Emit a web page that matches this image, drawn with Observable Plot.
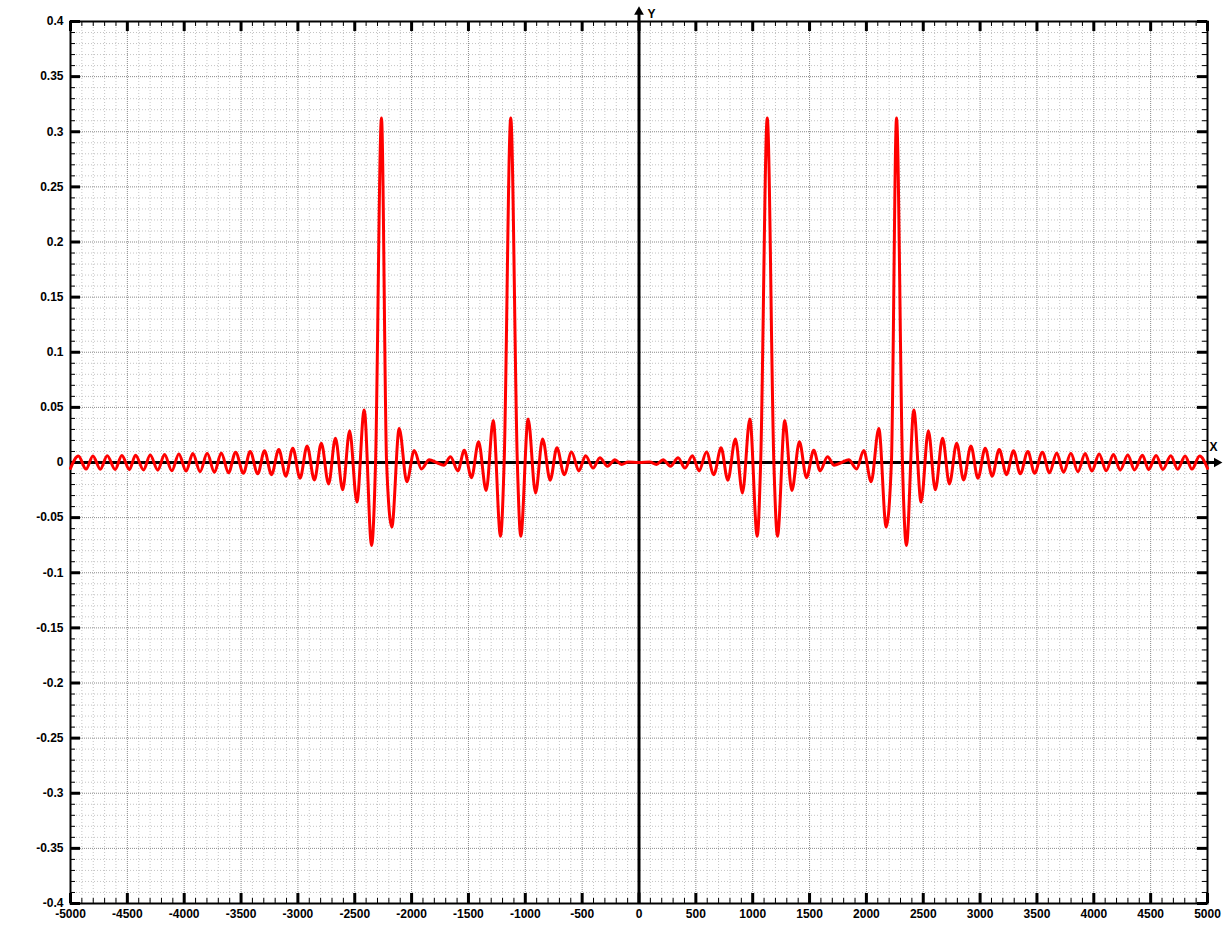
<!DOCTYPE html>
<html><head><meta charset="utf-8">
<script src="https://cdn.jsdelivr.net/npm/d3@7"></script>
<script src="https://cdn.jsdelivr.net/npm/@observablehq/plot@0.6"></script>
<style>html,body{margin:0;padding:0;background:#fff;} #chart svg{display:block;}</style>
</head><body><div id="chart"></div>
<script>
// Signal extrema (x, y), left half then right half
const leftX = [-5000, -4931, -4863, -4803, -4738, -4677, -4608, -4548, -4482, -4428, -4358, -4299, -4232, -4173, -4109, -4047, -3983, -3924, -3860, -3798, -3734, -3674, -3610, -3548, -3479, -3420, -3353, -3294, -3232, -3168, -3106, -3045, -2981, -2919, -2855, -2794, -2730, -2670, -2606, -2545, -2481, -2417, -2352, -2317, -2265, -2220, -2174, -2109, -2042, -1977, -1913, -1845, -1780, -1716, -1658, -1593, -1537, -1473, -1411, -1344, -1282, -1218, -1186, -1128, -1070, -1040, -975, -910, -848, -781, -722, -658, -593, -529, -470, -403, -344, -277, -212, -154, -95];
const leftY = [-0.0053, 0.0058, -0.0060, 0.0060, -0.0061, 0.0062, -0.0063, 0.0064, -0.0065, 0.0066, -0.0067, 0.0068, -0.0070, 0.0072, -0.0075, 0.0078, -0.0078, 0.0081, -0.0083, 0.0083, -0.0088, 0.0087, -0.0093, 0.0093, -0.0097, 0.0100, -0.0102, 0.0106, -0.0110, 0.0118, -0.0124, 0.0130, -0.0142, 0.0150, -0.0158, 0.0175, -0.0195, 0.0220, -0.0248, 0.0287, -0.0359, 0.0477, -0.0752, 0, 0.3125, 0, -0.0585, 0.0308, -0.0174, 0.0108, -0.0059, 0.0026, 0, -0.0024, 0.0052, -0.0076, 0.0110, -0.0138, 0.0188, -0.0255, 0.0380, -0.0670, 0, 0.3125, 0, -0.0670, 0.0394, -0.0277, 0.0214, -0.0160, 0.0133, -0.0110, 0.0095, -0.0076, 0.0061, -0.0051, 0.0043, -0.0034, 0.0026, -0.0018, 0.0005];
const rightX = [0, 95, 154, 212, 277, 344, 403, 470, 529, 593, 658, 722, 781, 848, 910, 975, 1040, 1070, 1128, 1186, 1218, 1282, 1344, 1411, 1473, 1537, 1593, 1658, 1716, 1780, 1845, 1913, 1977, 2042, 2109, 2174, 2220, 2265, 2317, 2352, 2417, 2481, 2545, 2606, 2670, 2730, 2794, 2855, 2919, 2981, 3045, 3106, 3168, 3232, 3294, 3353, 3420, 3479, 3548, 3610, 3674, 3734, 3798, 3860, 3924, 3983, 4047, 4109, 4173, 4232, 4299, 4358, 4428, 4482, 4548, 4608, 4677, 4738, 4803, 4863, 4931, 5000];
const rightY = [0, 0.0005, -0.0018, 0.0026, -0.0034, 0.0043, -0.0051, 0.0061, -0.0076, 0.0095, -0.0110, 0.0133, -0.0160, 0.0214, -0.0277, 0.0394, -0.0670, 0, 0.3125, 0, -0.0670, 0.0380, -0.0255, 0.0188, -0.0138, 0.0110, -0.0076, 0.0052, -0.0024, 0, 0.0026, -0.0059, 0.0108, -0.0174, 0.0308, -0.0585, 0, 0.3125, 0, -0.0752, 0.0477, -0.0359, 0.0287, -0.0248, 0.0220, -0.0195, 0.0175, -0.0158, 0.0150, -0.0142, 0.0130, -0.0124, 0.0118, -0.0110, 0.0106, -0.0102, 0.0100, -0.0097, 0.0093, -0.0093, 0.0087, -0.0088, 0.0083, -0.0083, 0.0081, -0.0078, 0.0078, -0.0075, 0.0072, -0.0070, 0.0068, -0.0067, 0.0066, -0.0065, 0.0064, -0.0063, 0.0062, -0.0061, 0.0060, -0.0060, 0.0058, -0.0053];

// Tick values
const xTicks = [-5000, -4500, -4000, -3500, -3000, -2500, -2000, -1500, -1000, -500, 0, 500, 1000, 1500, 2000, 2500, 3000, 3500, 4000, 4500, 5000];
const yTicks = [-0.4, -0.35, -0.3, -0.25, -0.2, -0.15, -0.1, -0.05, 0, 0.05, 0.1, 0.15, 0.2, 0.25, 0.3, 0.35, 0.4];
const xMinor = d3.range(-5000, 5001, 100).filter(d => d % 500 !== 0);
const yMinor = d3.range(-40, 41).filter(d => d % 5 !== 0).map(d => d / 100);

const W = 1230, H = 927, ML = 70, MR = 23, MT = 21, MB = 24;
const PW = W - ML - MR, PH = H - MT - MB;

const data = leftX.map((x, i) => ({x, y: leftY[i]}))
  .concat(rightX.map((x, i) => ({x, y: rightY[i]})));
const fmt = d => String(d);

const chart = Plot.plot({
  width: W, height: H,
  marginLeft: ML, marginRight: MR, marginTop: MT, marginBottom: MB,
  style: {fontFamily: '"Liberation Sans", Arial, sans-serif', fontSize: "12px", background: "#fff", overflow: "visible", color: "#000"},
  x: {domain: [-5000, 5000]},
  y: {domain: [-0.4, 0.4]},
  marks: [
    Plot.gridX(xMinor, {stroke: "#c4c4c4", strokeOpacity: 1, strokeDasharray: "1,2"}),
    Plot.gridY(yMinor, {stroke: "#c4c4c4", strokeOpacity: 1, strokeDasharray: "1,2"}),
    Plot.gridX(xTicks, {stroke: "#8a8a8a", strokeOpacity: 1, strokeDasharray: "1,1"}),
    Plot.gridY(yTicks, {stroke: "#8a8a8a", strokeOpacity: 1, strokeDasharray: "1,1"}),
    Plot.frame({stroke: "#000", strokeWidth: 2}),
    // minor ticks on all four sides (inward)
    Plot.ruleY(yMinor, {stroke: "#000", strokeWidth: 1, insetRight: PW - 5}),
    Plot.ruleY(yMinor, {stroke: "#000", strokeWidth: 1, insetLeft: PW - 5}),
    Plot.ruleX(xMinor, {stroke: "#000", strokeWidth: 1, insetTop: PH - 5}),
    Plot.ruleX(xMinor, {stroke: "#000", strokeWidth: 1, insetBottom: PH - 5}),
    // major ticks
    Plot.ruleY(yTicks, {stroke: "#000", strokeWidth: 3, insetRight: PW - 10}),
    Plot.ruleY(yTicks, {stroke: "#000", strokeWidth: 3, insetLeft: PW - 10}),
    Plot.ruleX(xTicks, {stroke: "#000", strokeWidth: 3, insetTop: PH - 10}),
    Plot.ruleX(xTicks, {stroke: "#000", strokeWidth: 3, insetBottom: PH - 10}),
    Plot.axisX(xTicks, {anchor: "bottom", tickSize: 0, tickPadding: 6, tickFormat: fmt, fontWeight: "bold", label: null}),
    Plot.axisY(yTicks, {anchor: "left", tickSize: 0, tickPadding: 7, tickFormat: fmt, fontWeight: "bold", label: null}),
    // axes through the origin with arrows
    Plot.ruleX([0], {stroke: "#000", strokeWidth: 3, insetTop: -7}),
    Plot.ruleY([0], {stroke: "#000", strokeWidth: 3, insetRight: -7}),
    Plot.dot([0], {x: d => d, frameAnchor: "top", dy: -9.6, symbol: "triangle", r: 3.6, fill: "#000", stroke: null}),
    Plot.dot([0], {y: d => d, frameAnchor: "right", dx: 9.3, symbol: "triangle", r: 3.6, rotate: 90, fill: "#000", stroke: null}),
    Plot.text([0], {x: d => d, frameAnchor: "top", dx: 12.5, dy: -12.5, text: () => "Y", fontWeight: "bold", fontSize: 12}),
    Plot.text([0], {y: d => d, frameAnchor: "right", dx: 10, dy: -15, text: () => "X", fontWeight: "bold", fontSize: 12}),
    // signal
    Plot.line(data, {x: "x", y: "y", stroke: "#ff0000", strokeWidth: 3, curve: "monotone-x"})
  ]
});
document.getElementById("chart").appendChild(chart);
</script>
</body></html>
